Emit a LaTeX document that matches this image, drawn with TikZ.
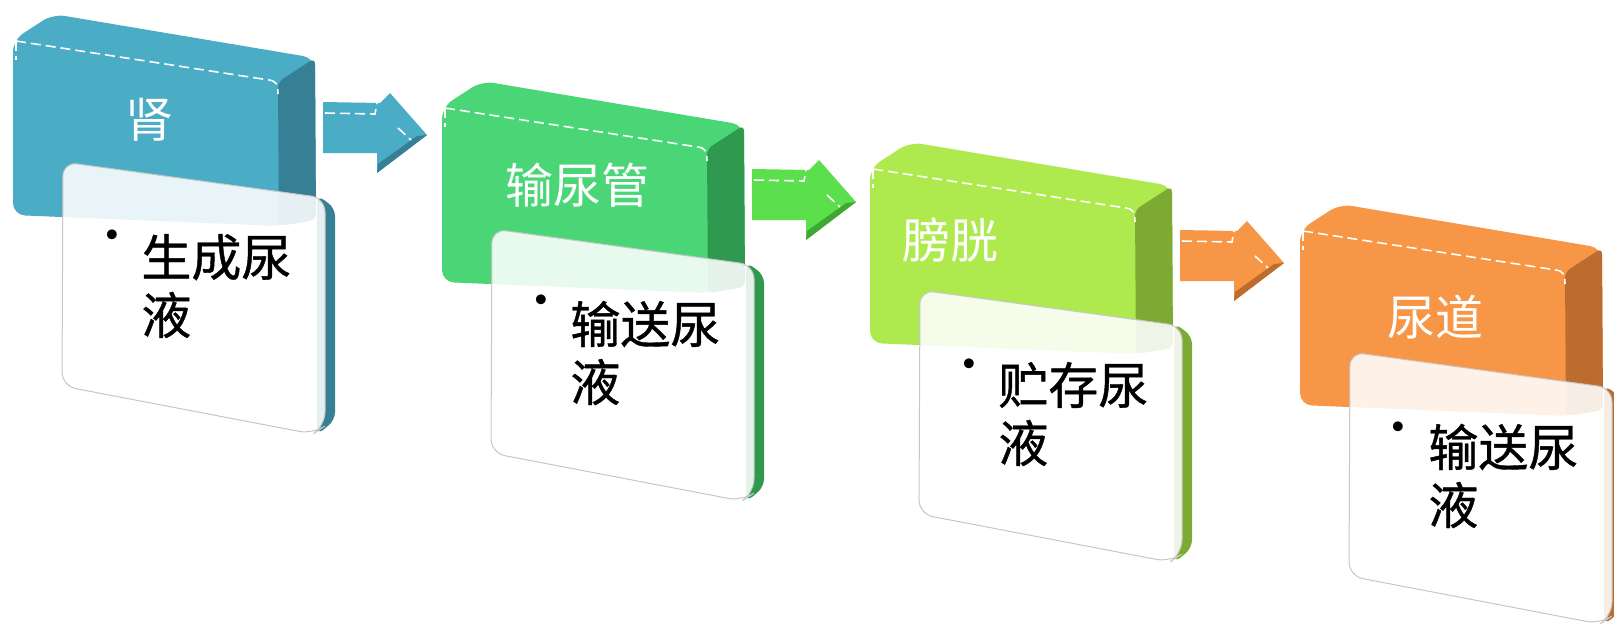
\documentclass[tikz,border=0pt]{standalone}
\usepackage{fontspec}
\newfontfamily\cjk{Noto Sans CJK SC}
\newfontfamily\cjkbody[FakeBold=0.8]{Noto Sans CJK SC}
\definecolor{blueF}{HTML}{4BACC6}
\definecolor{blueS}{HTML}{367F94}
\definecolor{greenF}{HTML}{4AD677}
\definecolor{greenS}{HTML}{2F9A4F}
\definecolor{limeF}{HTML}{AEEA4E}
\definecolor{limeS}{HTML}{7CAA33}
\definecolor{orangeF}{HTML}{F79646}
\definecolor{orangeS}{HTML}{BC6C2E}
\definecolor{arrG}{HTML}{5CDF4D}
\definecolor{arrGS}{HTML}{3EA833}
% box: #1 shift, #2 front colour, #3 side colour
\newcommand{\organbox}[3]{%
\begin{scope}[shift={#1}]
  \fill[#2, rounded corners=6pt] (0,175) -- (0,0) -- (40,-26) -- (302,18) -- (303,180) -- (266,186) -- cycle;
  \fill[#3, rounded corners=3pt] (265,42) -- (302,18) -- (303,180) -- (266,186) -- cycle;
  \draw[edgeline] (3,1) -- (256,40) .. controls (263,41) and (265,44) .. (265,54);
  \draw[edgeline] (3,1) -- (3,20);
\end{scope}}
% card: #1 shift, #2 band colour
\newcommand{\organcard}[2]{%
\begin{scope}[shift={#1}]
  \fill[#2, rounded corners=4pt] (304,155) -- (322,168) -- (322,380) -- (304,395) -- cycle;
  \filldraw[card] (50,122) -- (312,158) -- (312,386) -- (300,394) -- (49,346) -- cycle;
\end{scope}}
% arrow: #1 shift, #2 colour, #3 dark colour
\newcommand{\organarrow}[3]{%
\begin{scope}[shift={#1}]
  \fill[#2] (310,62) -- (367,63) -- (377,53) -- (414,95) -- (364,133) -- (364,113) -- (310,113) -- cycle;
  \fill[#3] (414,95) -- (364,133) -- (365,124) -- (404,96) -- cycle;
  \draw[edgeline] (312,73) -- (362,74) -- (364,63);
  \draw[edgeline] (385,88) -- (398,100);
\end{scope}}
\begin{document}
\begin{tikzpicture}[x=0.5pt,y=-0.5pt,
  titletext/.style={font=\cjk\fontsize{24}{28}\selectfont, text=white, inner sep=0pt},
  bodytext/.style={font=\cjkbody\fontsize{25}{29}\selectfont, text=black, align=left, inner sep=0pt, anchor=west},
  bullettext/.style={font=\fontsize{22}{22}\selectfont, text=black, inner sep=0pt},
  edgeline/.style={white, dash pattern=on 5pt off 2.5pt, line width=0.8pt},
  card/.style={fill=white, fill opacity=0.88, draw=black!22, line width=0.5pt, rounded corners=7pt},
]
\useasboundingbox (0,0) rectangle (1614,628);
\clip (0,0) rectangle (1614,628);

% stage 1
\organbox{(13,40)}{blueF}{blueS}
\node[titletext] (t1) at (150,120) {肾};
\organcard{(13,40)}{blueS}
\node[bullettext] (d1) at (112,238) {\textbullet};
\node[bodytext] (b1) at (141,286) {生成尿\\液};
\organarrow{(13,40)}{blueF}{blueS}

% stage 2
\organbox{(442,107)}{greenF}{greenS}
\node[titletext] (t2) at (577,185) {输尿管};
\organcard{(442,107)}{greenS}
\node[bullettext] (d2) at (541,303) {\textbullet};
\node[bodytext] (b2) at (570,353) {输送尿\\液};
\organarrow{(442,107)}{arrG}{arrGS}

% stage 3
\organbox{(870,168)}{limeF}{limeS}
\node[titletext] (t3) at (950,240) {膀胱};
\organcard{(870,168)}{limeS}
\node[bullettext] (d3) at (969,367) {\textbullet};
\node[bodytext] (b3) at (998,414) {贮存尿\\液};
\organarrow{(870,168)}{orangeF}{orangeS}

% stage 4
\organbox{(1300,230)}{orangeF}{orangeS}
\node[titletext] (t4) at (1435,317) {尿道};
\organcard{(1300,230)}{orangeS}
\node[bullettext] (d4) at (1398,430) {\textbullet};
\node[bodytext] (b4) at (1428,476) {输送尿\\液};
\end{tikzpicture}
\end{document}
